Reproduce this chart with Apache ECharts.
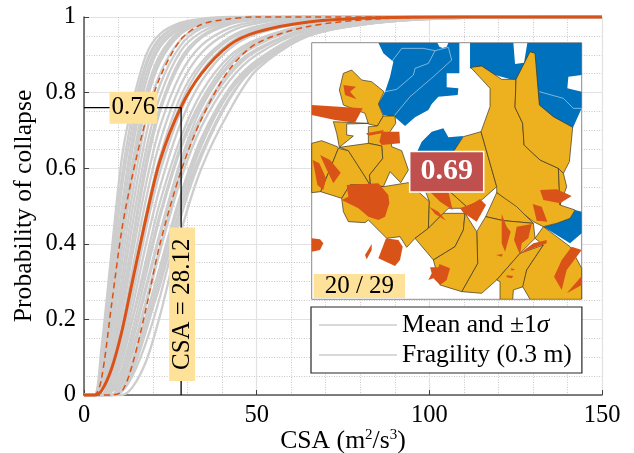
<!DOCTYPE html>
<html><head><meta charset="utf-8">
<style>html,body{margin:0;padding:0;background:#fff}#c{width:634px;height:453px}</style>
<script src="https://cdn.jsdelivr.net/npm/echarts@6/dist/echarts.min.js"></script>
</head><body><div id="c"></div>
<script>
const FONT='"Liberation Serif","Times New Roman",serif';
const csaGrid=[0,3,5,8,11,14,18,22,28,34,42,50,65,85,110,150];
const yTicks=[0,0.2,0.4,0.6,0.8,1];
const meanCurve =[0,0,.01,.07,.17,.30,.47,.62,.76,.85,.925,.96,.987,.998,1,1];
const upperCurve=[0,0,.04,.24,.44,.58,.73,.84,.94,.98,.995,1,1,1,1,1];
const lowerCurve=[0,0,0,0,.01,.08,.23,.40,.59,.73,.86,.93,.975,.995,1,1];
const g01=[0,0,.12,.38,.63,.77,.90,.955,.985,.995,1,1,1,1,1,1];
const g02=[0,0,.09,.34,.58,.74,.88,.945,.98,.993,.998,1,1,1,1,1];
const g03=[0,0,.07,.30,.55,.71,.87,.94,.98,.992,.998,1,1,1,1,1];
const g04=[0,0,.05,.27,.50,.68,.85,.93,.975,.99,.997,1,1,1,1,1];
const g05=[0,0,.05,.24,.46,.65,.83,.92,.97,.988,.997,.999,1,1,1,1];
const g06=[0,0,.03,.21,.43,.61,.80,.90,.965,.985,.996,.999,1,1,1,1];
const g07=[0,0,.03,.18,.39,.57,.77,.88,.955,.982,.995,.998,1,1,1,1];
const g08=[0,0,.02,.16,.35,.53,.73,.85,.94,.975,.993,.998,1,1,1,1];
const g09=[0,0,.02,.13,.31,.49,.69,.82,.925,.97,.99,.997,1,1,1,1];
const g10=[0,0,.01,.11,.28,.45,.65,.79,.91,.96,.987,.996,.999,1,1,1];
const g11=[0,0,.01,.09,.24,.40,.60,.75,.88,.945,.98,.993,.999,1,1,1];
const g12=[0,0,.01,.08,.21,.37,.56,.71,.85,.925,.97,.988,.998,1,1,1];
const g13=[0,0,0,.06,.18,.33,.52,.67,.82,.905,.96,.983,.997,.999,1,1];
const g14=[0,0,0,.05,.16,.29,.48,.63,.79,.88,.945,.975,.995,.999,1,1];
const g15=[0,0,0,.04,.13,.26,.44,.59,.75,.855,.93,.965,.99,.998,1,1];
const g16=[0,0,0,.03,.11,.23,.40,.55,.72,.83,.915,.955,.985,.997,1,1];
const g17=[0,0,0,.02,.09,.20,.36,.51,.68,.80,.895,.94,.98,.995,.999,1];
const g18=[0,0,0,.01,.07,.17,.32,.47,.65,.77,.875,.93,.975,.993,.999,1];
const g19=[0,0,0,.01,.05,.14,.28,.42,.61,.74,.855,.915,.97,.991,.998,1];
const g20=[0,0,0,0,.04,.11,.24,.38,.57,.71,.83,.90,.965,.99,.998,1];
const g21=[0,0,0,0,.03,.09,.21,.34,.53,.68,.81,.885,.96,.988,.998,1];
const g22=[0,0,0,0,.01,.06,.17,.30,.50,.66,.80,.88,.955,.986,.998,1];
const g23=[0,0,0,0,.01,.05,.14,.26,.47,.63,.78,.875,.955,.985,.998,1];
const g24=[0,0,0,0,0,.02,.09,.21,.43,.60,.75,.86,.95,.985,.998,1];
const g25=[0,0,0,.03,.10,.20,.34,.48,.66,.78,.885,.935,.978,.994,.999,1];
const g26=[0,0,0,.02,.06,.15,.29,.43,.62,.76,.87,.925,.975,.993,.999,1];
const g27=[0,0,0,.01,.04,.12,.25,.39,.59,.73,.845,.91,.968,.99,.998,1];
const g28=[0,0,0,.01,.03,.08,.19,.32,.52,.67,.80,.875,.955,.986,.998,1];
const g29=[0,0,0,0,.02,.07,.18,.29,.49,.64,.785,.87,.95,.985,.998,1];
const g30=[0,0,.01,.05,.15,.28,.46,.61,.77,.87,.94,.97,.993,.999,1,1];
const g31=[0,0,.02,.10,.25,.41,.62,.76,.89,.95,.983,.995,.999,1,1,1];
const g32=[0,0,.04,.20,.41,.59,.78,.89,.96,.984,.995,.999,1,1,1,1];
const grayCurves=[g01,g02,g03,g04,g05,g06,g07,g08,g09,g10,g11,g12,g13,g14,g15,g16,g17,g18,g19,g20,g21,g22,g23,g24,g25,g26,g27,g28,g29,g30,g31,g32];
const refCSA=28.12, refProb=0.76;
const blueRegions=[
[[235,38],[478,38],[478,130],[440,130],[440,172],[475,175],[473,195],[415,200],[395,222],[385,240],[345,262],[315,288],[285,262],[250,255],[235,222],[255,185],[270,140],[280,95],[250,70]],
[[510,38],[640,38],[645,102],[672,98],[682,38],[845,38],[845,135],[805,140],[802,175],[845,185],[845,235],[818,295],[700,260],[640,150],[510,115]],
[[350,368],[365,335],[395,305],[430,295],[445,322],[490,318],[460,368]],
[[825,540],[845,545],[845,610],[810,640],[730,590],[770,580],[810,565]]];
const whiteNotches=[[[412,38],[445,38],[440,50],[428,54],[418,50]]];
const whiteLines=[
[[275,95],[305,55],[370,55],[405,62],[385,100],[345,115],[340,135],[290,178],[255,185]],
[[405,62],[445,52],[455,90],[400,140],[330,200],[282,258]],
[[718,185],[790,205],[820,235],[845,235]]];
const yellowRegions=[
[[155,120],[185,150],[215,155],[252,185],[235,222],[250,258],[232,288],[205,282],[195,250],[130,225],[118,180],[130,130]],
[[100,275],[205,280],[140,282],[140,315],[160,318],[118,352],[110,310]],
[[250,258],[285,258],[287,280],[270,305],[275,350],[305,362],[325,420],[302,458],[270,425],[250,470],[212,465],[208,435],[248,385],[245,348],[205,340],[205,290],[232,288]],
[[35,340],[65,332],[112,350],[115,355],[95,405],[62,485],[35,488]],
[[115,355],[145,362],[170,400],[195,440],[210,465],[150,465],[125,505],[62,485],[95,405]],
[[118,352],[205,340],[245,348],[248,385],[208,435],[210,465],[195,440],[145,362]],
[[250,470],[300,462],[325,458],[388,515],[385,595],[345,625],[320,652],[300,620],[260,625],[205,570],[195,578],[145,575],[130,545],[125,505],[150,465],[212,465]],
[[375,480],[450,485],[500,530],[495,535],[445,535],[430,550],[410,570],[385,595],[388,515]],
[[460,365],[490,320],[543,305],[590,470],[545,510],[500,530],[450,485]],
[[512,112],[545,108],[605,148],[648,148],[645,232],[668,280],[672,345],[720,390],[775,415],[780,525],[825,540],[810,565],[770,580],[730,590],[700,575],[590,488],[590,470],[543,305],[570,230],[570,175]],
[[690,65],[705,70],[718,225],[760,260],[818,292],[808,395],[790,430],[775,415],[720,390],[672,345],[668,280],[645,232],[648,148]],
[[775,415],[790,430],[800,470],[780,525]],
[[590,488],[650,530],[700,580],[610,572],[557,560]],
[[557,560],[610,572],[700,580],[705,625],[660,670],[590,750],[545,790],[485,785],[533,700],[530,605]],
[[430,550],[495,550],[490,600],[465,650],[400,690],[345,625],[385,595],[410,570]],
[[495,550],[530,605],[533,700],[485,785],[420,765],[400,690],[465,650],[490,600]],
[[590,750],[660,670],[730,645],[680,720],[670,770],[640,780],[638,808],[600,808],[600,755]],
[[705,625],[730,590],[810,650],[845,715],[845,808],[690,808],[668,770],[680,720],[730,645]]];
const orangePatches=[
[[35,225],[188,235],[165,278],[105,270],[35,255]],
[[130,165],[168,170],[150,185],[170,208],[135,195]],
[[198,310],[252,300],[245,310],[205,317]],
[[245,305],[298,305],[300,340],[245,345],[238,335]],
[[38,390],[58,400],[78,445],[70,480],[52,465]],
[[60,375],[90,390],[122,428],[100,460],[78,415]],
[[140,465],[235,460],[265,495],[268,520],[255,560],[235,570],[205,560],[175,535],[125,510],[145,500]],
[[35,625],[60,628],[70,640],[60,660],[35,665]],
[[215,642],[215,660],[200,688],[195,675]],
[[258,625],[295,630],[308,650],[300,690],[285,708],[235,685]],
[[390,485],[445,485],[458,540],[420,515]],
[[388,530],[415,545],[438,572],[405,552]],
[[540,507],[558,525],[530,575],[490,548],[480,535],[520,520]],
[[720,480],[770,478],[815,498],[780,520],[730,510]],
[[698,522],[725,530],[742,575],[710,572]],
[[605,552],[620,590],[632,605],[615,665],[605,640]],
[[650,590],[695,582],[685,625],[665,640],[660,675],[642,630]],
[[740,630],[740,640],[660,670],[700,640]],
[[588,675],[608,672],[605,680]],
[[620,736],[640,738],[635,745],[620,742]],
[[632,715],[645,718],[635,722]],
[[390,712],[415,712],[418,702],[450,715],[440,750],[420,765],[400,745],[385,750],[395,730]],
[[815,650],[845,660],[800,720],[785,780],[762,740],[785,690]],
[[845,738],[845,765],[800,790]]];

const pairs=ys=>csaGrid.map((x,i)=>[x,ys[i]]);
const GRAY='#cdcdcd', ORANGE='#D95319', SM=0.3;
const chart=echarts.init(document.getElementById('c'));
const series=[];
series.push({name:'Mean and ±1σ',type:'line',data:pairs(meanCurve),smooth:SM,symbol:'none',clip:false,z:4,lineStyle:{color:ORANGE,width:3}});
grayCurves.forEach(c=>series.push({name:'Fragility (0.3 m)',type:'line',data:pairs(c),smooth:SM,symbol:'none',clip:false,z:2,lineStyle:{color:GRAY,width:2.3}}));
[upperCurve,lowerCurve].forEach(c=>series.push({name:'Mean and ±1σ',type:'line',data:pairs(c),smooth:SM,symbol:'none',clip:false,z:3,lineStyle:{color:ORANGE,width:1.5,type:[6,4]}}));
series.push({type:'line',data:[[0,refProb],[refCSA,refProb],[refCSA,0]],symbol:'none',z:5,lineStyle:{color:'#000',width:1.3},silent:true});
const tag={color:'#000',fontFamily:FONT,fontSize:25,backgroundColor:'#FFE29A'};
series.push({type:'scatter',symbolSize:0,z:6,itemStyle:{opacity:1},data:[{value:[14.3,refProb],label:{show:true,position:'inside',formatter:String(refProb),padding:[4,2,3,2],...tag}}]});
series.push({type:'scatter',symbolSize:0,z:6,itemStyle:{opacity:1},data:[{value:[refCSA+0.3,0.24],label:{show:true,position:'inside',rotate:90,formatter:'CSA = '+refCSA,padding:[1,11,0,11],...tag}}]});
function polySeries(list,fill,stroke,lw,z){
 return {type:'custom',xAxisIndex:1,yAxisIndex:1,z:z,silent:true,clip:true,
  data:list.map(r=>[r[0][0],r[0][1]]),
  renderItem:(p,api)=>({type:'polygon',shape:{points:list[p.dataIndex].map(q=>api.coord(q))},style:{fill:fill,stroke:stroke,lineWidth:lw}})};
}
function lineSeries(list,stroke,lw,z){
 return {type:'custom',xAxisIndex:1,yAxisIndex:1,z:z,silent:true,clip:true,
  data:list.map(r=>[r[0][0],r[0][1]]),
  renderItem:(p,api)=>({type:'polyline',shape:{points:list[p.dataIndex].map(q=>api.coord(q))},style:{fill:null,stroke:stroke,lineWidth:lw}})};
}
series.push(polySeries(blueRegions,'#0072BD',null,0,21));
series.push(polySeries(whiteNotches,'#fff',null,0,22));
series.push(lineSeries(whiteLines,'#cfe3f2',0.6,22));
series.push(polySeries(yellowRegions,'#EDB120','#3b3320',0.7,23));
series.push(polySeries(orangePatches,ORANGE,null,0,24));
series.push({type:'scatter',xAxisIndex:1,yAxisIndex:1,symbolSize:0,z:25,silent:true,itemStyle:{opacity:1},data:[
 {value:[440,425],label:{show:true,position:'inside',formatter:'0.69',color:'#fff',fontFamily:FONT,fontSize:30,fontWeight:'bold',backgroundColor:'#C0504D',borderColor:'#fff',borderWidth:1.5,padding:[5,10,4,10]}},
 {value:[178,768],label:{show:true,position:'inside',formatter:'20 / 29',color:'#000',fontFamily:FONT,fontSize:25,backgroundColor:'#FFE29A',padding:[0,11,0,11],lineHeight:24}}
]});
chart.setOption({
 animation:false,backgroundColor:'#fff',
 textStyle:{fontFamily:FONT},
 grid:[{left:84,right:32,top:17,bottom:58,outerBoundsMode:'none'},
       {left:311.7,top:42.7,width:270,height:256.6,show:true,backgroundColor:'#fff',borderColor:'#8c8c8c',borderWidth:1,z:20,outerBoundsMode:'none'}],
 xAxis:[{type:'value',min:0,max:150,interval:50,splitNumber:5,
   name:'CSA (m{s|2}/s{s|3})',nameLocation:'middle',nameGap:33,nameMoveOverlap:false,
   nameTextStyle:{fontFamily:FONT,fontSize:25.7,color:'#000',rich:{s:{fontFamily:FONT,fontSize:15,color:'#000',verticalAlign:'top',lineHeight:24}}},
   axisLine:{lineStyle:{color:'#555',width:1.5}},axisTick:{inside:true,length:5,lineStyle:{color:'#404040'}},
   axisLabel:{fontFamily:FONT,fontSize:24.5,color:'#000',margin:8},
   splitLine:{show:true,lineStyle:{color:'#e2e2e2',width:1.2}},
   minorTick:{show:false,splitNumber:5},minorSplitLine:{show:true,lineStyle:{color:'#c8c8c8',type:[1,1.5],width:1}}},
  {gridIndex:1,type:'value',min:35,max:845,show:false}],
 yAxis:[{type:'value',min:0,max:1,interval:0.2,
   name:'Probability of collapse',nameLocation:'middle',nameGap:47,nameMoveOverlap:false,
   nameTextStyle:{fontFamily:FONT,fontSize:25.7,color:'#000'},
   axisLine:{show:true,lineStyle:{color:'#555',width:1.5}},axisTick:{show:true,inside:true,length:5,lineStyle:{color:'#404040'}},
   axisLabel:{fontFamily:FONT,fontSize:24.5,color:'#000',margin:8,formatter:v=>yTicks.includes(+v.toFixed(1))?String(+v.toFixed(1)):''},
   splitLine:{show:true,lineStyle:{color:'#e2e2e2',width:1.2}},
   minorTick:{show:false,splitNumber:4},minorSplitLine:{show:true,lineStyle:{color:'#c8c8c8',type:[1,1.5],width:1}}},
  {gridIndex:1,type:'value',min:38,max:808,inverse:true,show:false}],
 legend:{show:true,orient:'vertical',left:311,top:307,width:271,z:30,
   backgroundColor:'#fff',borderColor:'#262626',borderWidth:1.2,borderRadius:0,
   padding:[5,10,5,8],itemGap:4,itemWidth:78,itemHeight:26,selectedMode:false,
   data:[{name:'Mean and ±1σ',icon:'path://M0,0H100V2H0Z',itemStyle:{color:GRAY,borderWidth:0}},
         {name:'Fragility (0.3 m)',icon:'path://M0,0H100V2H0Z',itemStyle:{color:GRAY,borderWidth:0}}],
   formatter:n=>n==='Mean and ±1σ'?'Mean and ±1{i|σ}':n,
   textStyle:{fontFamily:FONT,fontSize:25.6,color:'#000',rich:{i:{fontFamily:FONT,fontStyle:'italic',fontSize:25.6,color:'#000'}}}},
 series:series
});
</script></body></html>
